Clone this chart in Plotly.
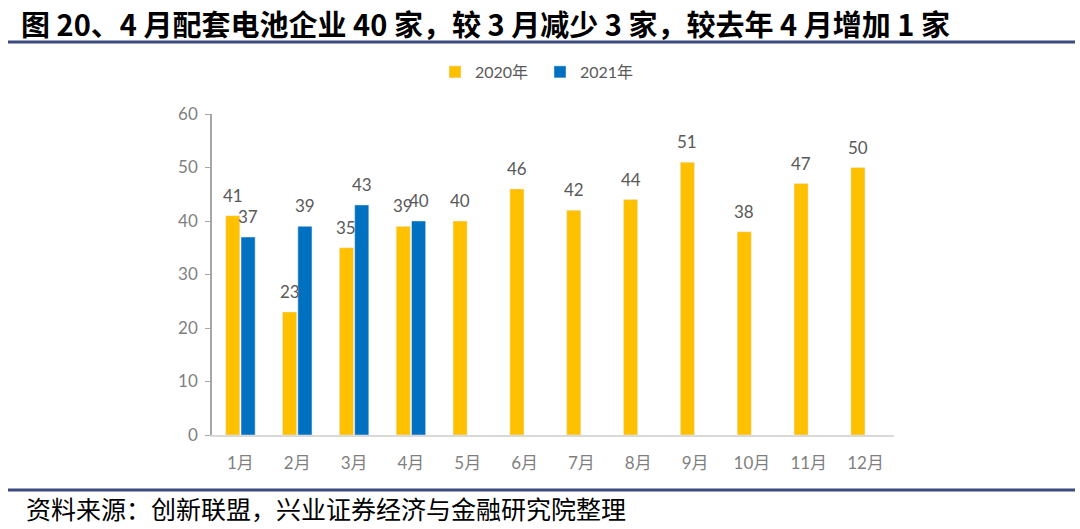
import plotly.graph_objects as go

months = ["1月", "2月", "3月", "4月", "5月", "6月", "7月", "8月", "9月", "10月", "11月", "12月"]
y2020 = [41, 23, 35, 39, 40, 46, 42, 44, 51, 38, 47, 50]
y2021 = [37, 39, 43, 40, None, None, None, None, None, None, None, None]
title_text = "图 20、4 月配套电池企业 40 家，较 3 月减少 3 家，较去年 4 月增加 1 家"
source_text = "资料来源：创新联盟，兴业证券经济与金融研究院整理"

FONT = "Lato, Noto Sans CJK SC, sans-serif"
label_font = dict(family=FONT, size=17, color="#595959")

# plot area at x 212-894, y 114-435 (page body margin removed below)
L, T = 212, 114
R = 1080 - 894
B = 529 - 435
PW, PH = 682, 321
BARGAP, GROUPGAP = 0.46, 0.08


def px(xpix):
    return (xpix - 212) / PW


def py(ypix):
    return (435 - ypix) / PH


fig = go.Figure()
fig.add_trace(go.Bar(x=months, y=y2020, name="2020年", marker_color="#FFC000"))
fig.add_trace(go.Bar(x=months, y=y2021, name="2021年", marker_color="#0070C0"))

# data labels, centred above each bar
cat_px = PW / len(months)
half = (1 - BARGAP) * cat_px / 4
for xs, ys, shift in ((months, y2020, -half), (months, y2021, half)):
    for m, v in zip(xs, ys):
        if v is None:
            continue
        fig.add_annotation(x=m, y=v, xref="x", yref="y", text=str(v), showarrow=False,
                           xshift=shift, yshift=8, yanchor="bottom", xanchor="center",
                           font=label_font)

fig.update_layout(
    width=1080, height=529,
    paper_bgcolor="white", plot_bgcolor="white",
    margin=dict(l=L, r=R, t=T, b=B),
    barmode="group", bargap=BARGAP, bargroupgap=GROUPGAP,
    showlegend=True,
    legend=dict(orientation="h", xref="container", yref="container",
                x=0.5, xanchor="center", y=1 - 72 / 529, yanchor="middle",
                font=dict(family=FONT, size=16, color="#595959"),
                itemwidth=30, entrywidth=60, traceorder="normal"),
    font=dict(family=FONT),
)

fig.update_xaxes(
    showline=True, linecolor="#D9D9D9", linewidth=2, ticks="", showgrid=False,
    tickfont=dict(family=FONT, size=17, color="#7F7F7F"),
    ticklabelstandoff=12,
)
fig.update_yaxes(
    range=[0, 60], dtick=10, showline=True, linecolor="#A6A6A6", linewidth=1.5,
    ticks="outside", ticklen=5, tickcolor="#A6A6A6", showgrid=False, zeroline=False,
    tickfont=dict(family=FONT, size=17, color="#7F7F7F"),
    ticklabelstandoff=4,
)

# Title
fig.add_annotation(text="<b>" + title_text + "</b>", xref="paper", yref="paper",
                   x=px(20), y=py(23), xanchor="left", yanchor="middle",
                   showarrow=False, borderpad=0,
                   font=dict(family="Noto Sans CJK SC, sans-serif", size=29, color="#000000"))
# Source
fig.add_annotation(text=source_text, xref="paper", yref="paper",
                   x=px(24), y=py(508), xanchor="left", yanchor="middle",
                   showarrow=False,
                   font=dict(family="Noto Sans CJK SC, sans-serif", size=25, color="#000000"))

# Lines
fig.add_shape(type="line", xref="paper", yref="paper",
              x0=px(8), x1=px(1075), y0=py(42), y1=py(42),
              line=dict(color="#3C4B7C", width=3))
fig.add_shape(type="line", xref="paper", yref="paper",
              x0=px(8), x1=px(1075), y0=py(490), y1=py(490),
              line=dict(color="#3C4B7C", width=3))

fig.write_html("out.html", config={"displayModeBar": False},
               post_script="document.body.style.margin='0';")
